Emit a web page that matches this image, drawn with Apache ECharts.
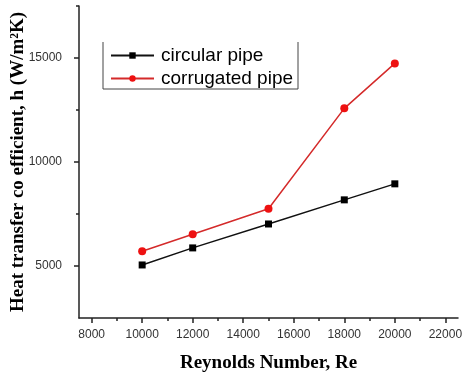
<!DOCTYPE html>
<html>
<head>
<meta charset="utf-8">
<script src="https://cdn.jsdelivr.net/npm/echarts@6/dist/echarts.min.js"></script>
<style>
  html, body { margin: 0; padding: 0; background: #fff; }
  #chart { width: 464px; height: 374px; }
</style>
</head>
<body>
<div id="chart"></div>
<script>
// Reynolds numbers tested
const reynolds = [10000, 12000, 15000, 18000, 20000];
// Heat transfer coefficient h (W/m²K)
const circularPipe = [5050, 5870, 7020, 8180, 8950];
const corrugatedPipe = [5710, 6530, 7750, 12580, 14740];

// Tick positions and labels
const xMajorTicks = [8000, 10000, 12000, 14000, 16000, 18000, 20000, 22000];
const xMinorTicks = [9000, 11000, 13000, 15000, 17000, 19000, 21000];
const yMajorTicks = [5000, 10000, 15000];
const yMinorTicks = [7500, 12500, 17500];

const seriesNames = ['circular pipe', 'corrugated pipe'];

const axisColor = '#222';
const labelStyle = { color: '#333', fontSize: 12, fontFamily: 'Liberation Sans', formatter: v => String(v) };
const titleStyle = { color: '#000', fontSize: 19, fontWeight: 'bold', fontFamily: 'Liberation Serif' };

const chart = echarts.init(document.getElementById('chart'), null, { renderer: 'canvas' });

chart.setOption({
  animation: false,
  backgroundColor: '#fff',
  grid: { left: 79, right: 6, top: 6, bottom: 56, containLabel: false, outerBoundsMode: 'none' },
  legend: {
    orient: 'vertical',
    left: 110,
    top: 46,
    padding: 0,
    itemWidth: 43,
    itemHeight: 8,
    itemGap: 4,
    textStyle: { color: '#000', fontSize: 19, fontFamily: 'Liberation Sans', padding: [0, 0, 0, 2] },
    data: seriesNames
  },
  graphic: [{
    type: 'polyline',
    shape: { points: [[103, 42], [103, 89], [298, 89], [298, 42]] },
    style: { stroke: '#444', lineWidth: 1, fill: null },
    silent: true
  }],
  xAxis: [{
    type: 'value',
    min: 7500,
    max: 22500,
    name: 'Reynolds Number, Re',
    nameLocation: 'middle',
    nameGap: 36,
    nameMoveOverlap: false,
    nameTextStyle: titleStyle,
    axisLine: { show: true, lineStyle: { color: axisColor, width: 1.5 } },
    axisTick: { show: true, length: 5, customValues: xMajorTicks, lineStyle: { color: axisColor, width: 1.5 } },
    axisLabel: { margin: 11, customValues: xMajorTicks, ...labelStyle },
    splitLine: { show: false }
  }, {
    type: 'value',
    position: 'bottom',
    min: 7500,
    max: 22500,
    axisLine: { show: false },
    axisTick: { show: true, length: 3, customValues: xMinorTicks, lineStyle: { color: axisColor, width: 1.5 } },
    axisLabel: { show: false },
    splitLine: { show: false }
  }],
  yAxis: [{
    type: 'value',
    min: 2500,
    max: 17500,
    name: 'Heat transfer co efficient, h (W/m²K)',
    nameLocation: 'middle',
    nameGap: 51,
    nameMoveOverlap: false,
    nameTextStyle: titleStyle,
    axisLine: { show: true, lineStyle: { color: axisColor, width: 1.5 } },
    axisTick: { show: true, length: 5, customValues: yMajorTicks, lineStyle: { color: axisColor, width: 1.5 } },
    axisLabel: { margin: 17, customValues: yMajorTicks, ...labelStyle },
    splitLine: { show: false }
  }, {
    type: 'value',
    position: 'left',
    min: 2500,
    max: 17500,
    axisLine: { show: false },
    axisTick: { show: true, length: 3, customValues: yMinorTicks, lineStyle: { color: axisColor, width: 1.5 } },
    axisLabel: { show: false },
    splitLine: { show: false }
  }],
  series: [{
    name: seriesNames[0],
    type: 'line',
    xAxisIndex: 0,
    yAxisIndex: 0,
    data: reynolds.map((re, i) => [re, circularPipe[i]]),
    symbol: 'rect',
    symbolSize: 7,
    itemStyle: { color: '#000' },
    lineStyle: { color: '#111', width: 1.5 }
  }, {
    name: seriesNames[1],
    type: 'line',
    xAxisIndex: 0,
    yAxisIndex: 0,
    data: reynolds.map((re, i) => [re, corrugatedPipe[i]]),
    symbol: 'circle',
    symbolSize: 8,
    itemStyle: { color: '#ee1111' },
    lineStyle: { color: '#d42a2a', width: 1.5 }
  }]
});
</script>
</body>
</html>
